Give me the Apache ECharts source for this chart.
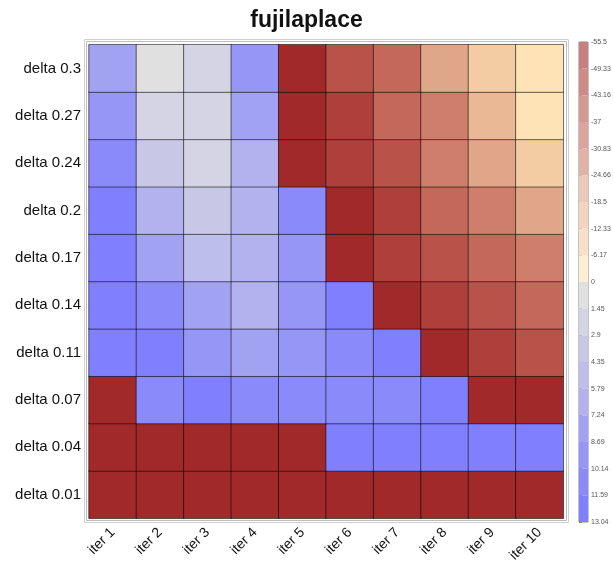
<!DOCTYPE html>
<html>
<head>
<meta charset="utf-8">
<script src="https://cdn.jsdelivr.net/npm/echarts@6/dist/echarts.min.js"></script>
<style>html,body{margin:0;padding:0;background:#fff;}#c{width:613px;height:561px;}</style>
</head>
<body>
<div id="c"></div>
<script>
// ---- data ----
const xCats = ['iter 1','iter 2','iter 3','iter 4','iter 5','iter 6','iter 7','iter 8','iter 9','iter 10'];
const yCats = ['delta 0.01','delta 0.04','delta 0.07','delta 0.11','delta 0.14','delta 0.17','delta 0.2','delta 0.24','delta 0.27','delta 0.3'];
const row_0_01 = [-55.5, -55.3, -55.0, -54.8, -55.2, -54.6, -55.4, -54.9, -55.1, -55.3];
const row_0_04 = [-55.4, -54.9, -55.0, -54.7, -55.1, 12.6, 12.3, 12.0, 12.4, 12.8];
const row_0_07 = [-55.2, 11.1, 12.2, 10.7, 10.5, 10.9, 11.3, 12.5, -53.9, -54.5];
const row_0_11 = [12.8, 12.1, 9.9, 7.6, 9.0, 10.6, 13.04, -54.2, -45.9, -40.0];
const row_0_14 = [12.7, 11.0, 7.8, 6.7, 9.2, 12.9, -55.0, -46.6, -40.3, -34.0];
const row_0_17 = [12.4, 8.2, 5.0, 6.2, 9.5, -54.6, -46.3, -39.7, -33.6, -28.1];
const row_0_2  = [12.6, 6.3, 3.7, 6.6, 11.2, -55.5, -47.1, -34.5, -27.2, -22.0];
const row_0_24 = [10.8, 3.5, 2.4, 6.4, -55.3, -46.9, -40.8, -28.3, -21.2, -9.0];
const row_0_27 = [9.6, 2.3, 1.9, 8.1, -55.1, -45.8, -33.2, -27.9, -15.6, -3.4];
const row_0_3  = [7.9, 0.4, 2.1, 9.3, -54.8, -40.5, -34.1, -21.9, -9.6, -2.8];
const rows = [row_0_01, row_0_04, row_0_07, row_0_11, row_0_14, row_0_17, row_0_2, row_0_24, row_0_27, row_0_3];
const colorbarBounds = [-55.5, -49.333, -43.167, -37, -30.833, -24.667, -18.5, -12.333, -6.167, 0, 1.449, 2.898, 4.347, 5.796, 7.244, 8.693, 10.142, 11.591, 13.04];
const colorbarTicks = ['-55.5','-49.33','-43.16','-37','-30.83','-24.66','-18.5','-12.33','-6.17','0','1.45','2.9','4.35','5.79','7.24','8.69','10.14','11.59','13.04'];

// ---- styles ----
const bandColors = ['#A22929','#AE3F3A','#B9534A','#C4685A','#CE7E6A','#E0A68A','#EAB894','#F4CCA4','#FDE3B5',
                    '#E0E0E0','#D4D4E4','#C8C8E6','#BEBEEA','#B2B2EE','#A2A2F2','#9696F6','#8A8AFB','#8080FF'];
function wash(hex, a){
  const r=parseInt(hex.substr(1,2),16), g=parseInt(hex.substr(3,2),16), b=parseInt(hex.substr(5,2),16);
  const f=v=>Math.round(v*a+255*(1-a));
  return 'rgb('+f(r)+','+f(g)+','+f(b)+')';
}
const barColors = bandColors.map((c,i)=> i<9 ? wash(c,0.6) : c);

const heatData = [];
rows.forEach((r, yi) => r.forEach((v, xi) => heatData.push([xi, yi, v])));

const pieces = [];
for (let i = 0; i < bandColors.length; i++) {
  const p = {color: bandColors[i]};
  p.gte = i === 0 ? -1000 : colorbarBounds[i];
  if (i === bandColors.length - 1) p.lte = 1000; else p.lt = colorbarBounds[i+1];
  pieces.push(p);
}
const barData = barColors.map((c, i) => [i, c]);

const FONT = 'Liberation Sans, Arial, sans-serif';
const chart = echarts.init(document.getElementById('c'), null, {renderer:'canvas'});
chart.setOption({
  animation: false,
  backgroundColor: '#fff',
  title: {text: 'fujilaplace', left: 'center', top: 4,
    textStyle: {fontFamily: FONT, fontSize: 23, fontWeight: 'bold', color: '#111'}},
  graphic: [
    {type:'rect', shape:{x:84.5, y:39.5, width:484, height:483}, style:{fill:'none', stroke:'#cfcfcf', lineWidth:1}, silent:true},
    {type:'rect', shape:{x:86.5, y:41.5, width:480, height:479}, style:{fill:'none', stroke:'#bdbdbd', lineWidth:1}, silent:true}
  ],
  grid: [
    {left: 89, top: 44.7, width: 474.3, height: 473.6, outerBoundsMode: 'none', containLabel: false},
    {left: 579, top: 42, width: 9, height: 480, show: true, borderColor: '#888', borderWidth: 1, outerBoundsMode: 'none', containLabel: false}
  ],
  xAxis: [
    {gridIndex:0, type:'category', data:xCats, axisLine:{show:false}, axisTick:{show:false},
     axisLabel:{rotate:45, fontFamily:FONT, fontSize:14, color:'#111', margin:12}, splitLine:{show:false}},
    {gridIndex:1, type:'value', min:0, max:1, show:false}
  ],
  yAxis: [
    {gridIndex:0, type:'category', data:yCats, axisLine:{show:false}, axisTick:{show:false},
     axisLabel:{fontFamily:FONT, fontSize:15, color:'#111', margin:8}, splitLine:{show:false}},
    {gridIndex:1, type:'value', min:0, max:18, interval:1, inverse:true, position:'right',
     axisLine:{show:false}, splitLine:{show:false},
     axisTick:{show:true, length:3, lineStyle:{color:'#888'}},
     axisLabel:{fontFamily:FONT, fontSize:7, color:'#555', margin:3,
       formatter: v => colorbarTicks[v]}}
  ],
  visualMap: {type:'piecewise', show:false, seriesIndex:0, dimension:2, pieces: pieces},
  series: [
    {type:'heatmap', xAxisIndex:0, yAxisIndex:0, data:heatData,
     itemStyle:{borderColor:'rgba(0,0,0,0.55)', borderWidth:1}, label:{show:false}},
    {type:'custom', xAxisIndex:1, yAxisIndex:1, data:barData,
     renderItem: (params, api) => {
       const i = api.value(0);
       const p0 = api.coord([0, i]);
       const p1 = api.coord([1, i + 1]);
       return {type:'rect', shape:{x:p0[0], y:Math.min(p0[1],p1[1]), width:p1[0]-p0[0], height:Math.abs(p1[1]-p0[1])},
               style:{fill: barColors[i]}};
     }}
  ]
});
</script>
</body>
</html>
